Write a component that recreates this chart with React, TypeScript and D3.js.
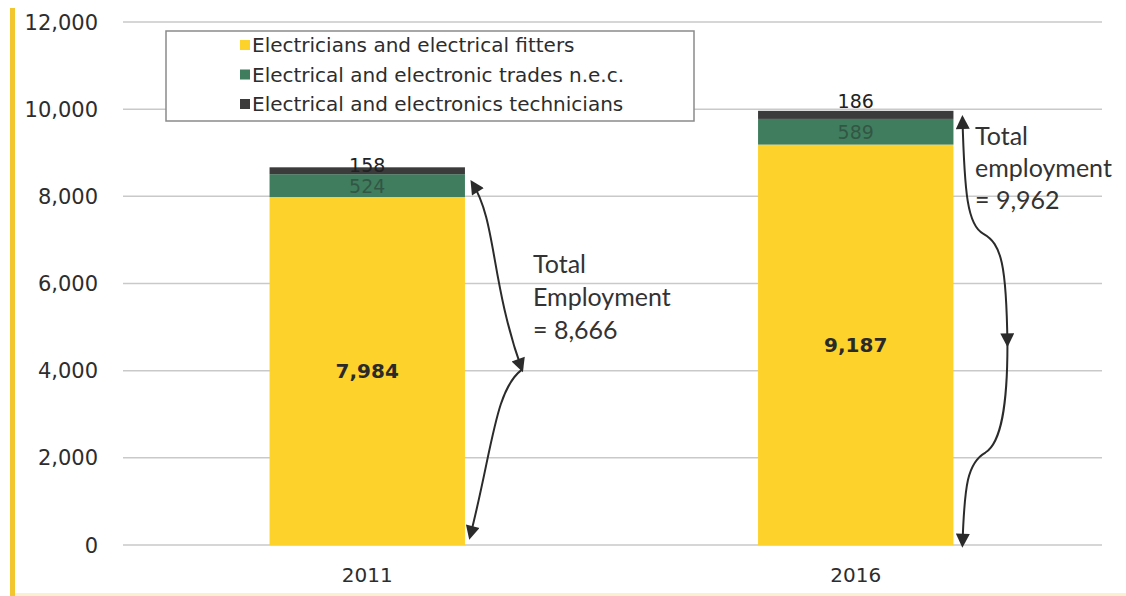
import React from "react";
import * as d3 from "d3";

const years = ["2011", "2016"];
const seriesNames = [
  "Electricians and electrical fitters",
  "Electrical and electronic trades n.e.c.",
  "Electrical and electronics technicians",
];
const electricians = [7984, 9187];
const tradesNec = [524, 589];
const technicians = [158, 186];
const totals = [8666, 9962];
const yTicks = [0, 2000, 4000, 6000, 8000, 10000, 12000];
const colors = ["#FDD22A", "#3F7D5E", "#3B3B3B"];

const W = 1126;
const H = 596;
const topLabelDy = [5, -3];

export default function App() {
  const x = d3.scaleBand<string>().domain(years).range([123, 1100]).paddingInner(0.6).paddingOuter(0.3);
  const y = d3.scaleLinear().domain([0, 12000]).range([545, 22]);
  const fmt = d3.format(",");
  const series = [electricians, tradesNec, technicians];
  const bw = x.bandwidth();

  const stacks = years.map((yr, i) => {
    let acc = 0;
    return series.map((s, k) => {
      const y0 = acc;
      acc += s[i];
      return { k, y0, y1: acc, v: s[i] };
    });
  });

  // annotation geometry derived from scales
  const b0 = x("2011")! + bw;
  const top0 = y(totals[0]) + 15;
  const bot0 = y(0) - 8;
  const mid0 = y(4000) - 1;
  const arrow2011a = `M${b0 + 7},${top0} C${b0 + 32},${top0 + 40} ${b0 + 25},${mid0 - 90} ${b0 + 57},${mid0}`;
  const arrow2011b = `M${b0 + 57},${mid0} C${b0 + 30},${mid0 + 20} ${b0 + 28},${bot0 - 90} ${b0 + 5},${bot0}`;

  const b1 = x("2016")! + bw;
  const top1 = y(totals[1]) + 7;
  const bot1 = y(0);
  const mid1 = y(4600);
  const arrow2016a = `M${b1 + 9},${top1} C${b1 + 11},${top1 + 75} ${b1 + 14},${top1 + 108} ${b1 + 30},${top1 + 116} C${b1 + 48},${top1 + 126} ${b1 + 53},${mid1 - 80} ${b1 + 54},${mid1}`;
  const arrow2016b = `M${b1 + 54},${mid1} C${b1 + 54},${mid1 + 60} ${b1 + 48},${mid1 + 98} ${b1 + 32},${mid1 + 108} C${b1 + 14},${mid1 + 118} ${b1 + 11},${bot1 - 60} ${b1 + 9},${bot1}`;

  const tickFont = "'DejaVu Sans', Verdana, sans-serif";
  const annFont = "Lato, 'Open Sans', sans-serif";

  return (
    <svg width={W} height={H} style={{ position: "absolute", left: 0, top: 0, background: "#fff" }}>
      <defs>
        <marker id="ah" viewBox="0 0 10 10" refX="8" refY="5" markerWidth="16" markerHeight="14" orient="auto-start-reverse" markerUnits="userSpaceOnUse">
          <path d="M0,0 L10,5 L0,10 z" fill="#2b2b2b" />
        </marker>
      </defs>
      <rect x={0} y={0} width={W} height={H} fill="#fff" />
      {/* left yellow rule */}
      <rect x={10} y={8} width={5} height={H - 8} fill="#F2C62E" />
      <rect x={15} y={H - 3} width={W - 15} height={3} fill="#FBF1CF" />

      {/* gridlines */}
      {yTicks.map((t) => (
        <line key={t} x1={123} x2={1102} y1={y(t)} y2={y(t)} stroke="#C9C9C9" strokeWidth={1.5} />
      ))}
      {yTicks.map((t) => (
        <text key={"l" + t} x={98} y={y(t)} dy="0.36em" textAnchor="end" fontFamily={tickFont} fontSize={21} fill="#2d2d2d">
          {fmt(t)}
        </text>
      ))}

      {/* bars */}
      {years.map((yr, i) =>
        stacks[i].map((s) => (
          <rect key={yr + s.k} x={x(yr)} width={bw} y={y(s.y1)} height={y(s.y0) - y(s.y1)} fill={colors[s.k]} />
        ))
      )}

      {/* value labels */}
      {years.map((yr, i) => {
        const cx = x(yr)! + bw / 2;
        const st = stacks[i];
        return (
          <g key={"v" + yr} fontFamily={tickFont} textAnchor="middle">
            <text x={cx} y={y(st[0].y1 / 2) + 7} fontSize={20} fontWeight={600} fill="#2a2a2a">{fmt(st[0].v)}</text>
            <text x={cx} y={(y(st[1].y0) + y(st[1].y1)) / 2 + 7} fontSize={19} fill="#2e4a3a" fillOpacity={0.75}>{fmt(st[1].v)}</text>
            <text x={cx} y={y(st[2].y1) + topLabelDy[i]} fontSize={19} fill="#222">{fmt(st[2].v)}</text>
          </g>
        );
      })}

      {/* x labels */}
      {years.map((yr) => (
        <text key={"x" + yr} x={x(yr)! + bw / 2} y={582} textAnchor="middle" fontFamily={tickFont} fontSize={20} fill="#2d2d2d">
          {yr}
        </text>
      ))}

      {/* legend */}
      <rect x={166} y={31} width={528} height={90} fill="#fff" stroke="#8a8a8a" strokeWidth={1.5} />
      {seriesNames.map((n, k) => (
        <g key={n} transform={`translate(240, ${45 + k * 29.5})`}>
          <rect x={0} y={-5} width={10} height={10} fill={colors[k]} />
          <text x={12} y={0} dy="0.36em" fontFamily={tickFont} fontSize={20} fill="#2d2d2d">
            {n}
          </text>
        </g>
      ))}

      {/* annotations */}
      <path d={arrow2011a} fill="none" stroke="#2b2b2b" strokeWidth={2} markerStart="url(#ah)" markerEnd="url(#ah)" />
      <path d={arrow2011b} fill="none" stroke="#2b2b2b" strokeWidth={2} markerEnd="url(#ah)" />
      <path d={arrow2016a} fill="none" stroke="#2b2b2b" strokeWidth={2} markerStart="url(#ah)" markerEnd="url(#ah)" />
      <path d={arrow2016b} fill="none" stroke="#2b2b2b" strokeWidth={2} markerEnd="url(#ah)" />

      <g fontFamily={annFont} fontSize={25} fill="#333">
        <text x={533} y={273}>Total</text>
        <text x={533} y={306}>Employment</text>
        <text x={533} y={339}>= {fmt(totals[0])}</text>
        <text x={975} y={145}>Total</text>
        <text x={975} y={177}>employment</text>
        <text x={975} y={209}>= {fmt(totals[1])}</text>
      </g>
    </svg>
  );
}
